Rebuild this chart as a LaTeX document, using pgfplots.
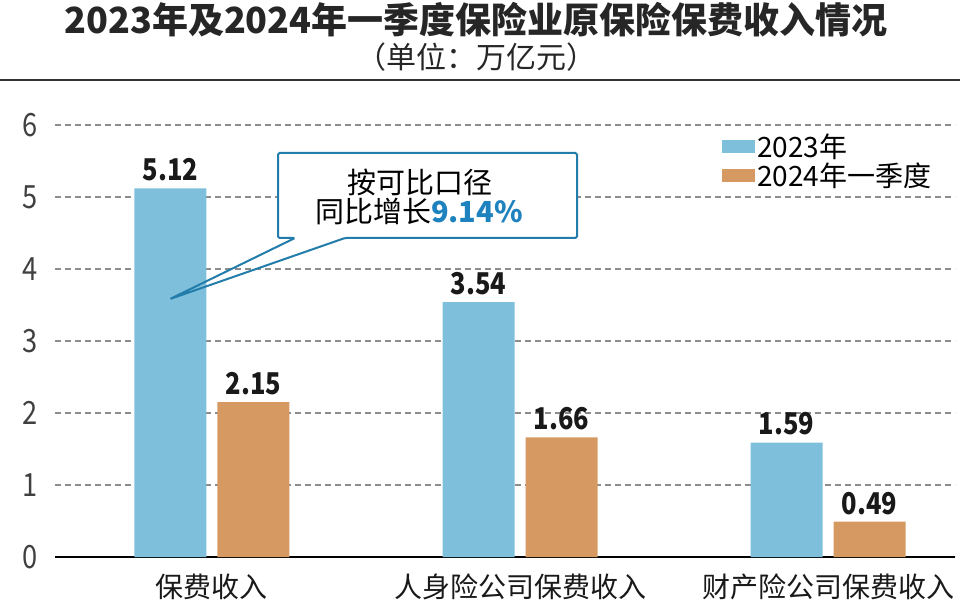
\documentclass[border=0pt]{standalone}
\usepackage{pgfplots}
\pgfplotsset{compat=1.18}
\usepackage{fontspec}
\setmainfont{Noto Sans CJK SC}
\newfontfamily\cond{Noto Sans CJK SC}[FakeStretch=0.85]
\definecolor{barblue}{RGB}{126,192,220}
\definecolor{barorange}{RGB}{214,153,98}
\definecolor{callblue}{RGB}{35,125,170}
\definecolor{pctblue}{RGB}{30,130,190}
\definecolor{gridgray}{RGB}{140,140,140}
\begin{document}
\begin{tikzpicture}
\path[use as bounding box] (0,0) rectangle (960bp,602bp);
\node[font=\bfseries\fontsize{36bp}{38bp}\selectfont, text=black!85] at (476bp,582bp) {2023年及2024年一季度保险业原保险保费收入情况};
\node[font=\fontsize{30bp}{32bp}\selectfont, text=black!85] at (476bp,545bp) {（单位：万亿元）};
\draw[line width=2.5bp, black!80] (0,522bp) -- (960bp,522bp);
\begin{axis}[
  at={(55bp,45bp)}, anchor=south west,
  scale only axis, width=900bp, height=432bp,
  xmin=-0.5097, xmax=2.4123, ymin=0, ymax=6,
  ybar=11bp, bar width=72bp,
  xtick={0,1,2}, xticklabels={保费收入,人身险公司保费收入,财产险公司保费收入},
  ytick={0,...,6},
  axis x line*=bottom, axis y line*=left,
  y axis line style={draw=none},
  x axis line style={line width=2.5bp, black, -},
  major tick length=0pt,
  clip=false,
  ymajorgrids, grid style={gridgray, line width=1.5bp, dash pattern=on 6bp off 4bp},
  /pgf/number format/assume math mode=true,
  yticklabel style={font=\cond\fontsize{32bp}{34bp}\selectfont, text=black!75, anchor=center, xshift=-25bp},
  xticklabel style={font=\fontsize{28bp}{30bp}\selectfont, text=black!90, yshift=-13bp},
  nodes near coords={\pgfmathprintnumber[fixed,fixed zerofill,precision=2]{\pgfplotspointmeta}},
  every node near coord/.append style={font=\cond\bfseries\fontsize{30bp}{32bp}\selectfont, inner sep=2bp, yshift=5bp, text=black!90},
  legend style={at={(0.741,0.985)}, anchor=north west, draw=none, fill=none,
    font=\fontsize{28bp}{30bp}\selectfont, inner sep=0pt, row sep=0bp,
    /tikz/every even column/.append style={column sep=6bp}},
  legend cell align=left,
  legend image code/.code={\fill[#1] (0bp,-6.5bp) rectangle (33bp,6.5bp);},
]
\addplot[fill=barblue, draw=none] coordinates {(0,5.12) (1,3.54) (2,1.59)};
\addplot[fill=barorange, draw=none] coordinates {(0,2.15) (1,1.66) (2,0.49)};
\legend{2023年,2024年一季度}
\end{axis}
\fill[white] (278bp,364bp) rectangle (577bp,449bp);
\draw[callblue, line width=2bp, rounded corners=1.5bp] (295bp,364bp) -- (170bp,303bp) -- (345bp,364bp) -- (577bp,364bp) -- (577bp,449bp) -- (278bp,449bp) -- (278bp,364bp) -- cycle;
\node[font=\fontsize{29bp}{31bp}\selectfont] at (420bp,420bp) {按可比口径};
\node[font=\fontsize{29bp}{31bp}\selectfont] at (419bp,391bp) {同比增长{\bfseries\color{pctblue}9.14\%}};
\end{tikzpicture}
\end{document}
